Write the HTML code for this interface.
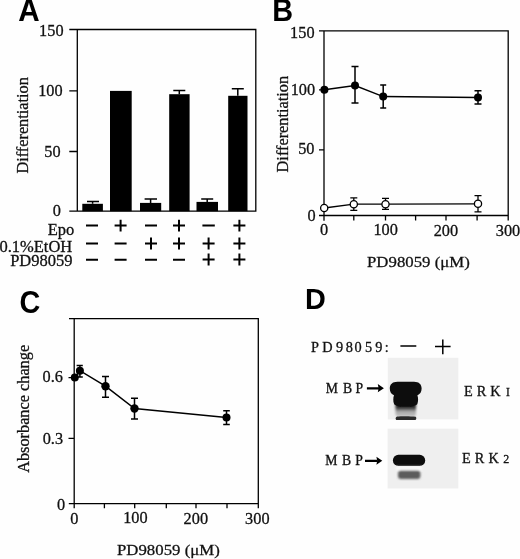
<!DOCTYPE html>
<html>
<head>
<meta charset="utf-8">
<style>
html,body{margin:0;padding:0;background:#fefefe;}
body{width:520px;height:559px;overflow:hidden;}
svg{display:block;will-change:transform;}
.t{font-family:"Liberation Serif",serif;fill:#111;stroke:#111;stroke-width:0.3px;}
.L{font-family:"Liberation Sans",sans-serif;font-weight:bold;fill:#000;}
</style>
</head>
<body>
<svg width="520" height="559" viewBox="0 0 520 559">
<rect x="0" y="0" width="520" height="559" fill="#fefefe"/>
<!-- ============ PANEL A ============ -->
<g stroke="#000" stroke-width="1.3" fill="none">
  <path d="M69.3 29.5H255.8V211.2H69.3M77.3 29.5V211.2M69.3 90.8H77.3M69.3 151.5H77.3"/>
</g>
<g fill="#000">
  <rect x="82.3" y="203.8" width="20.6" height="7.4"/>
  <rect x="110" y="90.9" width="21.7" height="120.3"/>
  <rect x="140" y="202.9" width="21.2" height="8.3"/>
  <rect x="169.2" y="94.2" width="20.4" height="117"/>
  <rect x="196.5" y="201.9" width="21.5" height="9.3"/>
  <rect x="228.2" y="95.8" width="19.3" height="115.4"/>
</g>
<g stroke="#000" stroke-width="1.5" fill="none">
  <path d="M92.6 203.8V201.5M87 201.5H99"/>
  <path d="M150.6 202.9V199M144.6 199H157"/>
  <path d="M179.3 94.2V90.4M173.3 90.4H185.3"/>
  <path d="M207.2 201.9V199M201.2 199H213.2"/>
  <path d="M237.8 95.8V88.8M231.8 88.8H243.8"/>
</g>
<g stroke="#000" stroke-width="2" fill="none">
  <path d="M86 225.6H98M114.6 225.6H126.6M120.6 219.8V231.4M145 225.6H157M173 225.6H185M179 219.8V231.4M202.4 225.6H214.8M233.4 225.6H245.4M239.4 219.8V231.4"/>
  <path d="M86 243.5H98M114.6 243.5H126.6M145 243.5H157M151 237.6V249.4M173 243.5H185M179 237.6V249.4M202.6 243.5H214.6M208.6 237.6V249.4M233.4 243.5H245.4M239.4 237.6V249.4"/>
  <path d="M86 259.8H98M114.6 259.8H126.6M145 259.8H157M173 259.8H185M202.6 259.6H214.6M208.6 253.6V265.4M233.4 259.6H245.4M239.4 253.6V265.4"/>
</g>

<!-- ============ PANEL B ============ -->
<g stroke="#000" stroke-width="1.3" fill="none">
  <path d="M319 30.8H508.2V215.5H319M324.0 30.8V220.8M319 89.8H324.2M319 149.8H324.2M353.8 215.5V220.6M385.5 215.5V220.6M415.6 215.5V220.6M446 215.5V220.6M477.1 215.5V220.6M508.2 215.5V220.6"/>
</g>
<g stroke="#000" stroke-width="1.5" fill="none">
  <path d="M324.4 89.8L355 85.6L383.2 96.6L478 97.4"/>
  <path d="M355 66.5V102.9M351.5 66.5H358.5M351.5 102.9H358.5"/>
  <path d="M383.2 85V107.9M380.2 85H386.2M380.2 107.9H386.2"/>
  <path d="M478 90.7V104.1M474.5 90.7H481.5M474.5 104.1H481.5"/>
</g>
<g fill="#000">
  <circle cx="324.4" cy="89.8" r="4"/>
  <circle cx="355" cy="85.6" r="4"/>
  <circle cx="383.2" cy="96.6" r="4"/>
  <circle cx="478" cy="97.4" r="4"/>
</g>
<g stroke="#000" stroke-width="1.3" fill="none">
  <path d="M324.2 208L353.8 204.2L385.5 204.2L478 203.8"/>
  <path d="M353.8 197.8V210.4M350.3 197.8H357.3M350.3 210.4H357.3"/>
  <path d="M385.5 198.3V209.4M382 198.3H389M382 209.4H389"/>
  <path d="M478 195.7V211.8M474.5 195.7H481.5M474.5 211.8H481.5"/>
</g>
<g fill="#fff" stroke="#000" stroke-width="1.3">
  <circle cx="324.2" cy="208" r="3.6"/>
  <circle cx="353.8" cy="204.2" r="3.6"/>
  <circle cx="385.5" cy="204.2" r="3.6"/>
  <circle cx="478" cy="203.8" r="3.6"/>
</g>

<!-- ============ PANEL C ============ -->
<g stroke="#000" stroke-width="1.3" fill="none">
  <path d="M69 318.6H258.3V503.6H68.8M74.2 318.5V508.2M68.5 377.7H74.2M68.5 438.3H74.2M104.4 503.6V508.2M134.7 503.6V508.2M166.3 503.6V508.2M196 503.6V508.2M227 503.6V508.2M258.3 503.6V508.2"/>
</g>
<g stroke="#000" stroke-width="1.5" fill="none">
  <path d="M74.8 377.6L79.9 370.7L105.5 386.2L134.5 408.5L226.5 417.6"/>
  <path d="M79.9 365.5V377M76.6 365.5H82.8M76.6 377H82.8"/>
  <path d="M105.5 376.6V397.3M102 376.6H109M102 397.3H109"/>
  <path d="M134.5 398.2V418.9M131 398.2H138M131 418.9H138"/>
  <path d="M226.5 410.8V424.4M223.2 410.8H229.8M223.2 424.4H229.8"/>
</g>
<g fill="#000">
  <circle cx="74.8" cy="377.6" r="4"/>
  <circle cx="79.9" cy="370.7" r="4"/>
  <circle cx="105.5" cy="386.2" r="4.2"/>
  <circle cx="134.5" cy="408.5" r="4.2"/>
  <circle cx="226.5" cy="417.6" r="4"/>
</g>

<!-- ============ PANEL D ============ -->
<g stroke="#000" stroke-width="1.5" fill="none">
  <path d="M400.4 345.9H416.3M435 346.6H450.6M442.8 339.5V354.2"/>
</g>
<defs>
<filter id="bl" x="-20%" y="-20%" width="140%" height="140%"><feGaussianBlur stdDeviation="0.7"/></filter>
<filter id="bl2" x="-30%" y="-30%" width="160%" height="160%"><feGaussianBlur stdDeviation="1.2"/></filter>
<linearGradient id="g1" x1="0" y1="0" x2="0" y2="1">
<stop offset="0" stop-color="#101010"/><stop offset="0.45" stop-color="#2a2a2a"/><stop offset="0.72" stop-color="#b0b0b0"/><stop offset="1" stop-color="#b8b8b8"/>
</linearGradient>
</defs>
<rect x="387.8" y="357.8" width="70.5" height="61.6" fill="#efefef"/>
<rect x="387.6" y="428.7" width="70.7" height="59.8" fill="#efefef"/>
<g stroke="#000" stroke-width="2.2" fill="none">
  <path d="M366.9 388.3H379M365 460.8H377.5"/>
</g>
<g fill="#000">
  <path d="M383.9 388.3L377.8 384.1L378.6 388.3L377.8 392.3Z"/>
  <path d="M382.3 460.8L376.4 456.8L377.2 460.8L376.4 464.7Z"/>
</g>
<g filter="url(#bl2)">
  <rect x="395.5" y="400" width="20.5" height="16.5" rx="3" fill="url(#g1)"/>
</g>
<g filter="url(#bl)">
  <path d="M397 416.6C401 416 411 416 415.8 416.8C416.5 417.8 416.5 419 415.5 419.9H396.2C395.3 419 395.3 417.6 397 416.6Z" fill="#2c2c2c"/>
  <path d="M397.5 381.8H414C419.2 381.8 421.6 384.6 421.6 388.4C421.6 392 419.8 394.3 417.4 395.2C418.4 397.8 418.4 401.6 417.2 404.2C415 407.6 396.5 407.6 394.2 404.2C393 401.6 393 397.8 394 395.2C391.6 394.3 389.8 392 389.8 388.4C389.8 384.6 392.2 381.8 397.5 381.8Z" fill="#0b0b0b"/>
  <rect x="392.9" y="454.8" width="32.3" height="11.1" rx="5.5" ry="5.5" fill="#0b0b0b"/>
</g>
<g filter="url(#bl2)">
  <rect x="396" y="466.5" width="26" height="3.5" fill="#fafafa"/>
  <rect x="398" y="470.6" width="22.4" height="8.4" rx="3" fill="#5c5c5c"/>
</g>

<text class="L" font-size="28" transform="translate(18.3 20.6) scale(1.06 1.15)">A</text>
<text class="L" font-size="28" transform="translate(272.3 20.6) scale(1.03 1.15)">B</text>
<text class="L" font-size="28" transform="translate(19.4 312.8) scale(1.03 1.12)">C</text>
<text class="L" font-size="28" transform="translate(305.1 309.2) scale(1.03 1.07)">D</text>
<text class="t" font-size="16.3" x="39.12" y="35.75">150</text>
<text class="t" font-size="16.3" x="38.17" y="95.95">100</text>
<text class="t" font-size="16.3" x="44.3" y="156.65">50</text>
<text class="t" font-size="16.3" x="52.67" y="216.25">0</text>
<text class="t" font-size="16.3" transform="translate(28.03 173.6) rotate(-90)">Differentiation</text>
<text class="t" font-size="16.5" x="47.73" y="234.75">Epo</text>
<text class="t" font-size="16.5" x="-0.6" y="251.75">0.1%EtOH</text>
<text class="t" font-size="16.5" x="10.17" y="265.6">PD98059</text>
<text class="t" font-size="16.3" x="290.12" y="37.65">150</text>
<text class="t" font-size="16.3" x="290.73" y="95.15">100</text>
<text class="t" font-size="16.3" x="298.2" y="153.8">50</text>
<text class="t" font-size="16.3" x="307.47" y="221.1">0</text>
<text class="t" font-size="16.3" x="320.03" y="235.35">0</text>
<text class="t" font-size="16.3" x="373.43" y="235.35">100</text>
<text class="t" font-size="16.3" x="433.68" y="236.0">200</text>
<text class="t" font-size="16.3" x="495.75" y="235.9">300</text>
<text class="t" font-size="16.8" transform="translate(367.03 267.2) scale(1 0.93)">PD98059 (μM)</text>
<text class="t" font-size="16.3" transform="translate(287.98 172.4) rotate(-90)">Differentiation</text>
<text class="t" font-size="16.3" x="42.62" y="382.3">0.6</text>
<text class="t" font-size="16.3" x="42.7" y="443.65">0.3</text>
<text class="t" font-size="16.3" x="57.07" y="509.95">0</text>
<text class="t" font-size="16.3" x="70.17" y="523.65">0</text>
<text class="t" font-size="16.3" x="123.18" y="523.2">100</text>
<text class="t" font-size="16.3" x="183.62" y="523.6">200</text>
<text class="t" font-size="16.3" x="245.1" y="523.7">300</text>
<text class="t" font-size="16.8" transform="translate(116.97 555.49) scale(1 0.93)">PD98059 (μM)</text>
<text class="t" font-size="16.3" transform="translate(29.25 472.8) rotate(-90)">Absorbance change</text>
<text class="t" font-size="14.3" text-anchor="middle" x="314.95 327.5 339.6 349.25 358.05 368.6 378.95 386.65" y="351.9">PD98059:</text>
<text class="t" font-size="13.7" text-anchor="middle" x="331.95 347.6 359.4" y="393.2">MBP</text>
<text class="t" font-size="13.7" text-anchor="middle" x="331.3 346.6 359.05" y="464.6">MBP</text>
<text class="t" font-size="14.3" text-anchor="middle" x="468.3 481.4 495.45" y="395.9">ERK</text>
<text class="t" font-size="11.5" text-anchor="middle" x="507.9" y="395.9">I</text>
<text class="t" font-size="14.3" text-anchor="middle" x="466.45 479.4 493.7" y="462.9">ERK</text>
<text class="t" font-size="12" text-anchor="middle" x="506.15" y="462.9">2</text>
</svg>
</body>
</html>
